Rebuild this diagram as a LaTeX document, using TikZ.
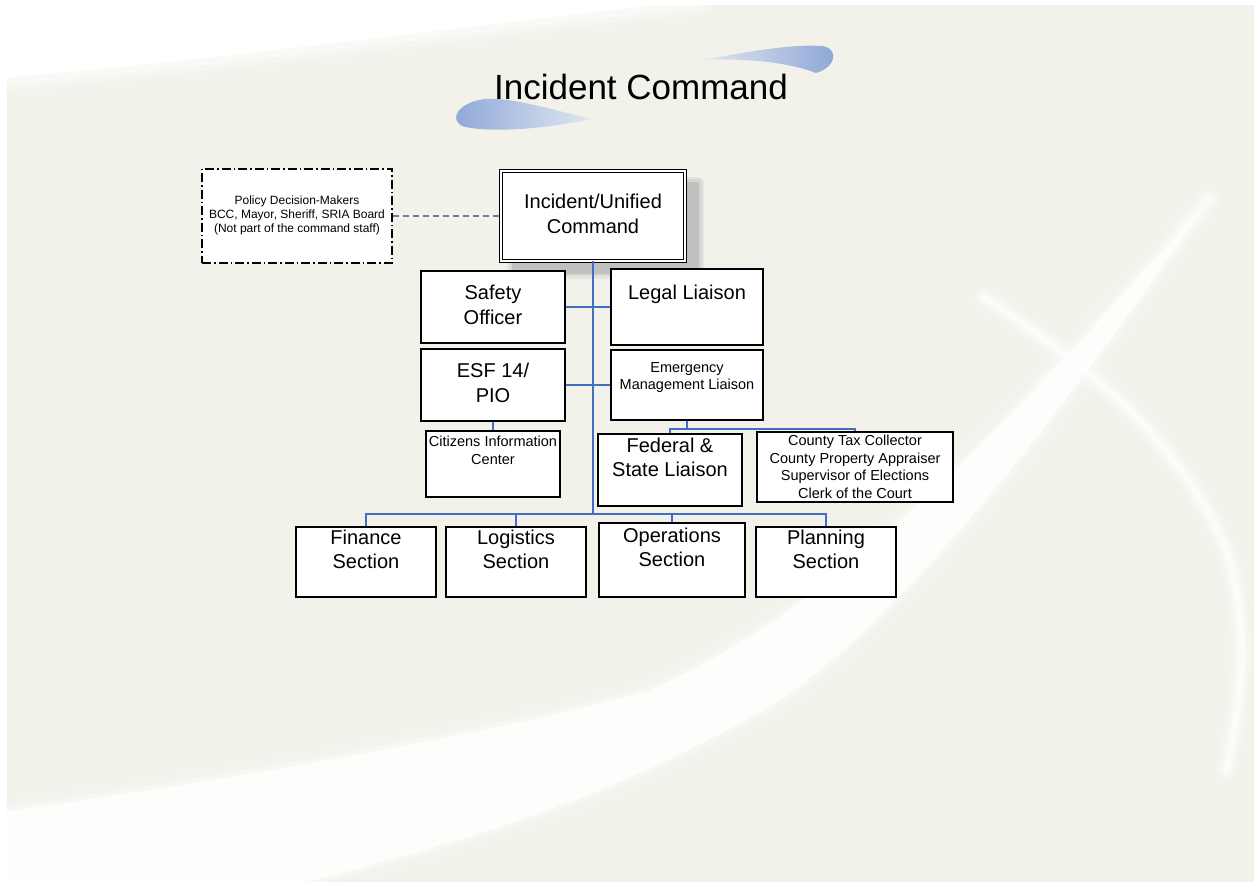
\documentclass[tikz,border=0pt]{standalone}
\usepackage{fontspec}
\setmainfont{Liberation Sans}
\usetikzlibrary{calc}
\definecolor{pagebg}{RGB}{242,242,235}
\definecolor{lineblue}{RGB}{68,110,196}
\definecolor{dashgrey}{RGB}{110,125,160}
\definecolor{shadowgrey}{RGB}{192,192,192}
\definecolor{swooshdark}{RGB}{140,166,214}
\definecolor{swooshlight}{RGB}{226,231,242}
% box text: width, height, top padding, font size, baselineskip, text
\newcommand\boxtext[6]{\parbox[c][#2pt][t]{#1pt}{\centering\fontsize{#4pt}{#5pt}\selectfont\vspace*{#3pt}\strut#6}}
\begin{document}
\begin{tikzpicture}[x=1pt,y=-1pt,
  box/.style={draw=black, line width=1.6pt, fill=white, inner sep=0pt},
  policybox/.style={box, line width=1.3pt, dash pattern=on 9pt off 3pt on 1.5pt off 3pt},
  conn/.style={draw=lineblue, line width=1.7pt},
  dashconn/.style={draw=dashgrey, line width=1.3pt, dash pattern=on 6pt off 4pt},
  soft/.style={white, line cap=round}]
\useasboundingbox (0,0) rectangle (1254,882);
% page background
\fill[white] (0,0) rectangle (1254,882);
\fill[pagebg] (7,5) rectangle (1254,882);

% light sweeps across the page
\fill[white] (0,0) -- (0,78) .. controls (200,62) and (450,28) .. (700,0) -- cycle;
\foreach \w/\o in {40/0.15,26/0.25,14/0.4}
  \draw[soft, line width=\w pt, opacity=\o] (0,78) .. controls (200,62) and (450,28) .. (700,0);
\fill[white, opacity=0.85] (0,812) .. controls (300,770) and (550,720) .. (650,690)
  .. controls (850,600) and (1000,430) .. (1208,200)
  .. controls (1060,420) and (900,620) .. (780,700)
  .. controls (600,810) and (400,860) .. (232,900) -- (0,900) -- cycle;
\foreach \w/\o in {30/0.1,18/0.15,8/0.25}{
  \draw[soft, line width=\w pt, opacity=\o] (0,812) .. controls (300,770) and (550,720) .. (650,690)
    .. controls (850,600) and (1000,430) .. (1208,200);
  \draw[soft, line width=\w pt, opacity=\o] (1208,200) .. controls (1060,420) and (900,620) .. (780,700)
    .. controls (600,810) and (400,860) .. (232,900);
}
\foreach \w/\o in {30/0.1,20/0.18,12/0.3,6/0.5}
  \draw[soft, line width=\w pt, opacity=\o] (985,298) .. controls (1080,360) and (1185,440)
    .. (1230,560) .. controls (1250,640) and (1240,710) .. (1226,770);

% blue swooshes around the heading
\shade[left color=swooshdark, right color=swooshlight]
  (592,119) .. controls (545,108) and (510,97) .. (485,99)
  .. controls (460,102) and (448,118) .. (462,126)
  .. controls (490,134) and (550,128) .. (592,119) -- cycle;
\shade[left color=swooshlight, right color=swooshdark]
  (703,60) .. controls (745,52) and (790,44) .. (822,46)
  .. controls (838,48) and (838,66) .. (816,73)
  .. controls (790,63) and (750,58) .. (703,60) -- cycle;

\node[anchor=base] (title) at (641,100) {\fontsize{35}{42}\selectfont Incident Command};

% shadow behind the command box
\foreach \w/\o in {10/0.25,5/0.4}
  \draw[shadowgrey, line width=\w pt, opacity=\o, line join=round] (512,182) rectangle (699,274);
\fill[shadowgrey] (512,182) rectangle (699,274);

% boxes
\node[policybox] (pol) at (297,216)
  {\boxtext{190}{94}{26.2}{12}{14}{Policy Decision-Makers\\BCC, Mayor, Sheriff, SRIA Board\\(Not part of the command staff)}};
\node[box, line width=1.1pt, double=white, double distance=2pt] (ic) at (593,216)
  {\boxtext{184.4}{89.4}{20.2}{20}{25}{Incident/Unified\\Command}};
\node[box] (safety) at (493,307) {\boxtext{144}{72}{11.5}{20}{25}{Safety\\Officer}};
\node[box] (legal) at (687,307) {\boxtext{152}{76}{13.5}{20}{25}{Legal Liaison}};
\node[box] (esf) at (493,385) {\boxtext{144}{72}{11.1}{20}{25}{ESF 14/\\PIO}};
\node[box] (em) at (687,385) {\boxtext{152}{70}{11.1}{14.5}{17}{Emergency\\Management Liaison}};
\node[box] (cit) at (493,464) {\boxtext{134}{66}{3.4}{14.5}{18}{Citizens Information\\Center}};
\node[box] (fed) at (670,470) {\boxtext{144}{72}{1.8}{20}{24}{Federal \&\\State Liaison}};
\node[box] (county) at (855,467) {\boxtext{196}{70}{1.75}{14.5}{17.5}{County Tax Collector\\County Property Appraiser\\Supervisor of Elections\\Clerk of the Court}};
\node[box] (fin) at (366,562) {\boxtext{140}{70}{0}{20}{24.3}{Finance\\Section}};
\node[box] (log) at (516,562) {\boxtext{140}{70}{0}{20}{24.3}{Logistics\\Section}};
\node[box] (ops) at (672,560) {\boxtext{146}{74}{2}{20}{24.3}{Operations\\Section}};
\node[box] (plan) at (826,562) {\boxtext{140}{70}{0}{20}{24.3}{Planning\\Section}};

% connectors
\coordinate (bus) at (593,514);
\draw[dashconn] (pol.east) -- (ic.west);
\draw[conn] (ic.south) -- (bus);
\draw[conn] (safety.east) -- (legal.west);
\draw[conn] (esf.east) -- (em.west);
\draw[conn] (esf.south) -- (cit.north);
\draw[conn] (em.south) -- ++(0,8) coordinate (emj);
\draw[conn] (fed.north) |- (emj) -| (county.north);
\draw[conn] (fin.north) |- (bus) -| (plan.north);
\draw[conn] (log.north) -- (log.north |- bus);
\draw[conn] (ops.north) -- (ops.north |- bus);
\end{tikzpicture}
\end{document}
